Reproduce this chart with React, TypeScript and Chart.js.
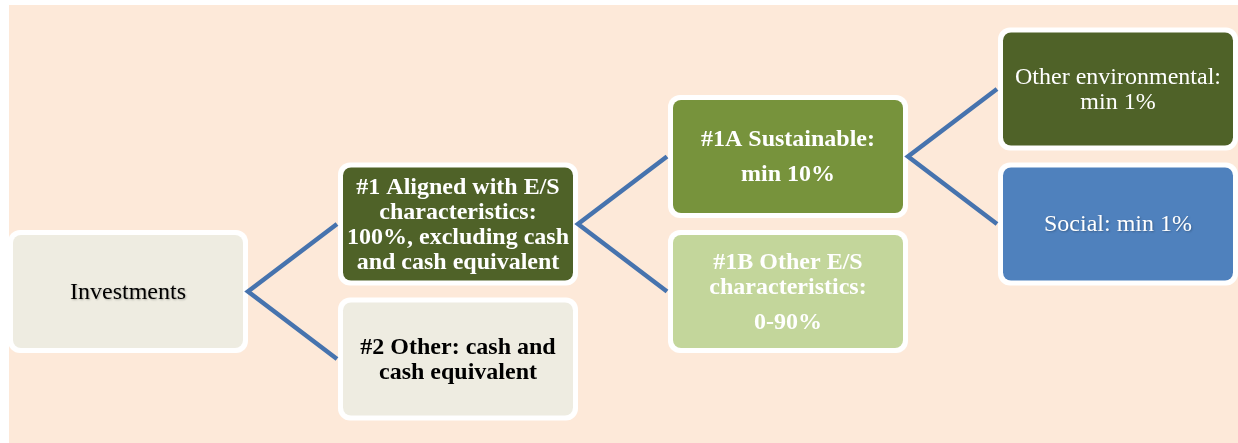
import React, { useEffect, useRef } from "react";
import { Chart, registerables } from "chart.js";

Chart.register(...registerables);

// ---- Data: tree of investment allocation ----
const nodeLabels = [
  "Investments",
  "#1 Aligned with E/S\ncharacteristics:\n100%, excluding cash\nand cash equivalent",
  "#2 Other: cash and\ncash equivalent",
  "#1A Sustainable:\n\nmin 10%",
  "#1B Other E/S\ncharacteristics:\n\n0-90%",
  "Other environmental:\nmin 1%",
  "Social: min 1%",
];
// depth of each node in the tree
const nodeLevels = [0, 1, 1, 2, 2, 3, 3];
// vertical slot of each node
const nodeRows = [0, 1, -1, 2, 0, 3, 1];
// parent index (-1 = root)
const nodeParents = [-1, 0, 0, 1, 1, 3, 3];

// ---- Styles ----
const nodeFills = ["#EEECE1", "#4F6228", "#EEECE1", "#77933C", "#C3D69B", "#4F6228", "#4F81BD"];
const nodeTextColors = ["#000000", "#FFFFFF", "#000000", "#FFFFFF", "#FFFFFF", "#FFFFFF", "#FFFFFF"];
const nodeBold = [false, true, true, true, true, false, false];
const nodeShadow = [true, false, false, false, false, false, true];

const W = 1238;
const H = 443;
const COL_PX = 330;
const ROW_PX = 67.5;
const ORIGIN_X = 128;
const ORIGIN_Y = 291.5;
const BOX_W = 230;
const BOX_H = 113;
const BORDER = 5;
const LINE_COLOR = "#4673AE";
const BG = "#FDE9D9";

function roundRect(ctx: CanvasRenderingContext2D, x: number, y: number, w: number, h: number, r: number) {
  ctx.beginPath();
  ctx.moveTo(x + r, y);
  ctx.lineTo(x + w - r, y);
  ctx.arcTo(x + w, y, x + w, y + r, r);
  ctx.lineTo(x + w, y + h - r);
  ctx.arcTo(x + w, y + h, x + w - r, y + h, r);
  ctx.lineTo(x + r, y + h);
  ctx.arcTo(x, y + h, x, y + h - r, r);
  ctx.lineTo(x, y + r);
  ctx.arcTo(x, y, x + r, y, r);
  ctx.closePath();
}

const treePlugin = {
  id: "treePlugin",
  beforeDraw(chart: any) {
    const ctx = chart.ctx as CanvasRenderingContext2D;
    ctx.save();
    ctx.fillStyle = "#FFFFFF";
    ctx.fillRect(0, 0, chart.width, chart.height);
    ctx.fillStyle = BG;
    ctx.fillRect(9, 5, chart.width - 9, chart.height - 5);
    ctx.restore();
  },
  afterDatasetsDraw(chart: any) {
    const ctx = chart.ctx as CanvasRenderingContext2D;
    const pts = chart.getDatasetMeta(0).data;
    const outerW = BOX_W + 2 * BORDER;
    const outerH = BOX_H + 2 * BORDER;
    ctx.save();
    // boxes
    pts.forEach((p: any, i: number) => {
      const cx = p.x;
      const cy = p.y;
      ctx.fillStyle = "#FFFFFF";
      roundRect(ctx, cx - outerW / 2, cy - outerH / 2, outerW, outerH, 12);
      ctx.fill();
      ctx.fillStyle = nodeFills[i];
      roundRect(ctx, cx - BOX_W / 2, cy - BOX_H / 2, BOX_W, BOX_H, 8);
      ctx.fill();
    });
    // connectors
    ctx.strokeStyle = LINE_COLOR;
    ctx.lineWidth = 4.5;
    ctx.lineJoin = "miter";
    ctx.lineCap = "butt";
    pts.forEach((p: any, i: number) => {
      const kids = nodeParents.map((par, k) => (par === i ? k : -1)).filter((k) => k >= 0);
      if (kids.length === 0) return;
      const vx = p.x + outerW / 2;
      const vy = p.y;
      ctx.beginPath();
      const a = pts[kids[0]];
      ctx.moveTo(a.x - outerW / 2 - 1, a.y);
      ctx.lineTo(vx, vy);
      for (let k = 1; k < kids.length; k++) {
        const b = pts[kids[k]];
        ctx.lineTo(b.x - outerW / 2 - 1, b.y);
      }
      ctx.stroke();
    });
    // labels
    const LINE_H = 25;
    const PARA_GAP = 10;
    pts.forEach((p: any, i: number) => {
      const paras = nodeLabels[i].split("\n\n").map((s) => s.split("\n"));
      const nLines = paras.reduce((s, l) => s + l.length, 0);
      const total = nLines * LINE_H + (paras.length - 1) * PARA_GAP;
      let y = p.y - total / 2 + LINE_H / 2;
      ctx.font = nodeBold[i]
        ? 'bold 24px "Liberation Serif", "Times New Roman", serif'
        : '24px "Liberation Serif", "Times New Roman", serif';
      ctx.fillStyle = nodeTextColors[i];
      ctx.textAlign = "center";
      ctx.textBaseline = "middle";
      if (nodeShadow[i]) {
        ctx.shadowColor = "rgba(0,0,0,0.25)";
        ctx.shadowBlur = 2;
        ctx.shadowOffsetX = 1;
        ctx.shadowOffsetY = 1;
      } else {
        ctx.shadowColor = "rgba(0,0,0,0)";
        ctx.shadowBlur = 0;
        ctx.shadowOffsetX = 0;
        ctx.shadowOffsetY = 0;
      }
      paras.forEach((lines, pi) => {
        lines.forEach((line) => {
          ctx.fillText(line, p.x, y + 1);
          y += LINE_H;
        });
        if (pi < paras.length - 1) y += PARA_GAP;
      });
    });
    ctx.restore();
  },
};

export default function App() {
  const canvasRef = useRef<HTMLCanvasElement | null>(null);

  useEffect(() => {
    document.body.style.margin = "0";
    const canvas = canvasRef.current;
    if (!canvas) return;
    const chart = new Chart(canvas, {
      type: "scatter",
      data: {
        datasets: [
          {
            label: "nodes",
            data: nodeLevels.map((lv, i) => ({ x: lv, y: nodeRows[i] })),
            pointRadius: 0,
            pointHoverRadius: 0,
            showLine: false,
          },
        ],
      },
      options: {
        animation: false,
        responsive: false,
        devicePixelRatio: 1,
        events: [],
        layout: { padding: 0 },
        plugins: {
          legend: { display: false },
          tooltip: { enabled: false },
          title: { display: false },
        },
        scales: {
          x: {
            type: "linear",
            display: false,
            min: -ORIGIN_X / COL_PX,
            max: (W - ORIGIN_X) / COL_PX,
          },
          y: {
            type: "linear",
            display: false,
            min: (ORIGIN_Y - H) / ROW_PX,
            max: ORIGIN_Y / ROW_PX,
          },
        },
      },
      plugins: [treePlugin],
    });
    return () => chart.destroy();
  }, []);

  return (
    <div style={{ position: "absolute", left: 0, top: 0, width: W, height: H }}>
      <canvas ref={canvasRef} width={W} height={H} style={{ display: "block" }} />
    </div>
  );
}
